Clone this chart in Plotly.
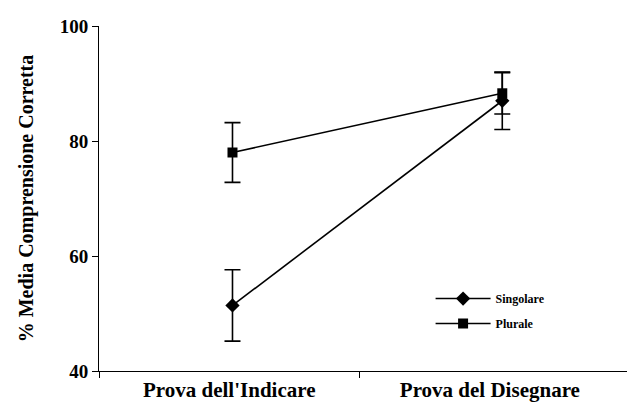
import plotly.graph_objects as go

# Category positions and labels
conditions = ["Prova dell'Indicare", "Prova del Disegnare"]
cond_x = [0, 1]

# Mean percentage of correct comprehension and error-bar half-widths
singolare_mean = [51.4, 87.0]
singolare_err = [6.2, 5.0]
plurale_mean = [78.0, 88.3]
plurale_err = [5.2, 3.6]

y_ticks = [40, 60, 80, 100]

serif = "Liberation Serif"

fig = go.Figure()

fig.add_trace(go.Scatter(
    x=cond_x, y=singolare_mean, name="Singolare", mode="lines+markers",
    line=dict(color="black", width=1.6),
    marker=dict(symbol="diamond", size=11, color="black"),
    error_y=dict(type="data", array=singolare_err, visible=True,
                 color="black", thickness=1.6, width=8),
    legendgroup="s",
))
fig.add_trace(go.Scatter(
    x=cond_x, y=plurale_mean, name="Plurale", mode="lines+markers",
    line=dict(color="black", width=1.6),
    marker=dict(symbol="square", size=10, color="black"),
    error_y=dict(type="data", array=plurale_err, visible=True,
                 color="black", thickness=1.6, width=8),
    legendgroup="p",
))

fig.update_layout(
    width=627, height=412,
    margin=dict(l=99, r=0, t=26, b=41),
    paper_bgcolor="white", plot_bgcolor="white",
    font=dict(family=serif, color="black"),
    showlegend=True,
    legend=dict(
        x=0.628, y=0.252, xanchor="left", yanchor="top",
        font=dict(family=serif, size=12, color="black", weight="bold"),
        itemwidth=55, tracegroupgap=6, bgcolor="rgba(0,0,0,0)",
    ),
    xaxis=dict(
        range=[-0.4948, 1.4623],
        tickmode="array", tickvals=[-0.012, 0.954], ticktext=conditions,
        ticks="", showgrid=False, zeroline=False,
        showline=True, linecolor="black", linewidth=1,
        tickfont=dict(family=serif, size=21, weight="bold"),
        minor=dict(tickmode="array", tickvals=[-0.4948, 0.4726],
                   ticks="outside", ticklen=6, tickcolor="black", showgrid=False),
    ),
    yaxis=dict(
        range=[40, 100], tickvals=y_ticks,
        ticks="outside", ticklen=6, tickcolor="black",
        showgrid=False, zeroline=False,
        showline=True, linecolor="black", linewidth=1,
        tickfont=dict(family=serif, size=19, weight="bold"),
        title=dict(text="% Media Comprensione Corretta",
                   font=dict(family=serif, size=20, weight="bold"), standoff=20),
    ),
)

fig.write_html("out.html")
